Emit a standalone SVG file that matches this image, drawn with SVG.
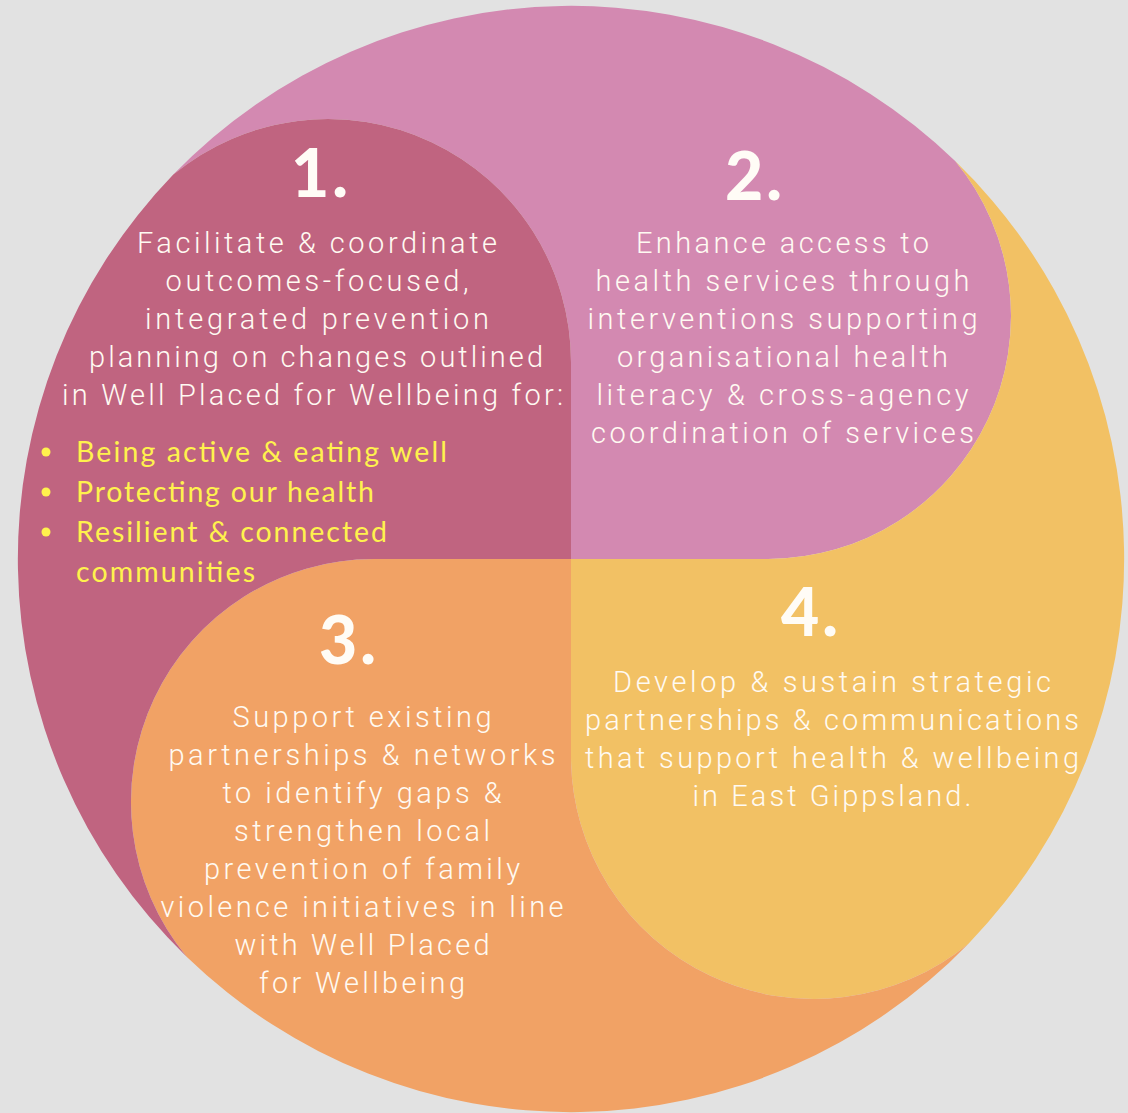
<svg xmlns="http://www.w3.org/2000/svg" width="1128" height="1113" viewBox="0 0 1128 1113">
<style>
.bg{fill:#E2E2E2}
.s1{fill:#C06480}
.s2{fill:#D389B1}
.s3{fill:#F1A265}
.s4{fill:#F2C164}
.num{font-family:Lato,"Liberation Sans",sans-serif;font-weight:900;font-size:66px;fill:#FFFCF6;text-anchor:middle;letter-spacing:3px}
.body{font-family:Roboto,"Liberation Sans",sans-serif;font-weight:300;font-size:29px;fill:#FFFAF2;text-anchor:middle}
.bul{font-family:Lato,"Liberation Sans",sans-serif;font-weight:400;font-size:28.5px;fill:#FFF24D}
.dot{fill:#FFF24D}
</style>
<rect class="bg" x="0" y="0" width="1128" height="1113"/>
<g id="node-2">
<path class="s2" d="M571,559 L571,362 A243,243 0 0 0 173.3,174.6 A553,553 0 0 1 955.4,161.3 A243,243 0 0 1 768,559 Z"/>
<text class="num" x="755" y="200">2.</text>
<text class="body" x="782.5" y="253" textLength="293">Enhance access to</text>
<text class="body" x="782.5" y="291" textLength="374">health services through</text>
<text class="body" x="782.5" y="329" textLength="390">interventions supporting</text>
<text class="body" x="782.5" y="367" textLength="331">organisational health</text>
<text class="body" x="782.5" y="405" textLength="372">literacy &amp; cross-agency</text>
<text class="body" x="782.5" y="443" textLength="383">coordination of services</text>
</g>
<g id="node-4">
<path class="s4" d="M571,559 L768,559 A243,243 0 0 0 955.4,161.3 A553,553 0 0 1 968.7,943.4 A243,243 0 0 1 571,756 Z"/>
<text class="num" x="811" y="636">4.</text>
<text class="body" x="832" y="692" textLength="438">Develop &amp; sustain strategic</text>
<text class="body" x="832" y="730" textLength="494">partnerships &amp; communications</text>
<text class="body" x="832" y="768" textLength="494">that support health &amp; wellbeing</text>
<text class="body" x="832" y="806" textLength="279">in East Gippsland.</text>
</g>
<g id="node-3">
<path class="s3" d="M571,559 L571,756 A243,243 0 0 0 968.7,943.4 A553,553 0 0 1 186.6,956.7 A243,243 0 0 1 374,559 Z"/>
<text class="num" x="349" y="664">3.</text>
<text class="body" x="362" y="727" textLength="259">Support existing</text>
<text class="body" x="362" y="765" textLength="387">partnerships &amp; networks</text>
<text class="body" x="362" y="803" textLength="279">to identify gaps &amp;</text>
<text class="body" x="362" y="841" textLength="256">strengthen local</text>
<text class="body" x="362" y="879" textLength="316">prevention of family</text>
<text class="body" x="362" y="917" textLength="403">violence initiatives in line</text>
<text class="body" x="362" y="955" textLength="255">with Well Placed</text>
<text class="body" x="362" y="993" textLength="206">for Wellbeing</text>
</g>
<g id="node-1">
<path class="s1" d="M571,559 L571,362 A243,243 0 0 0 173.3,174.6 A553,553 0 0 0 186.6,956.7 A243,243 0 0 1 374,559 Z"/>
<text class="num" x="321" y="197">1.</text>
<text class="body" x="317" y="253" textLength="360">Facilitate &amp; coordinate</text>
<text class="body" x="317" y="291" textLength="303">outcomes-focused,</text>
<text class="body" x="317" y="329" textLength="344">integrated prevention</text>
<text class="body" x="316" y="367" textLength="454">planning on changes outlined</text>
<text class="body" x="312.5" y="405" textLength="501">in Well Placed for Wellbeing for:</text>
<circle class="dot" cx="46" cy="452" r="4.5"/>
<circle class="dot" cx="46" cy="492" r="4.5"/>
<circle class="dot" cx="46" cy="532" r="4.5"/>
<text class="bul" x="76" y="462" textLength="371">Being active &amp; eating well</text>
<text class="bul" x="76" y="502" textLength="298">Protecting our health</text>
<text class="bul" x="76" y="542" textLength="311">Resilient &amp; connected</text>
<text class="bul" x="76" y="582" textLength="179">communities</text>
</g>
</svg>
